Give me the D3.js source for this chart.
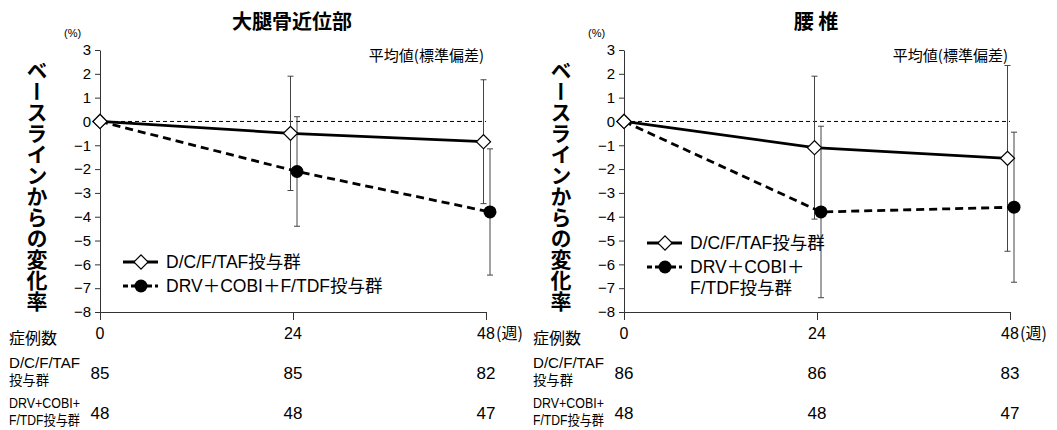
<!DOCTYPE html>
<html lang="ja">
<head>
<meta charset="UTF-8">
<title>ベースラインからの変化率</title>
<script src="https://d3js.org/d3.v7.min.js"></script>
<style>
  body, html { margin: 0; padding: 0; background: #fff; }
  svg { display: block; font-family: "Liberation Sans", "Noto Sans CJK JP", sans-serif; }
  .jp { font-family: "Noto Sans CJK JP", sans-serif; }
</style>
</head>
<body>
<svg></svg>
<script>
// data
const weeks = [0, 24, 48];
const yTicks = [3, 2, 1, 0, -1, -2, -3, -4, -5, -6, -7, -8];

const femurTaf = [0, -0.5, -0.85];
const femurTafSd = [0, 2.4, 2.6];
const femurDrv = [0, -2.1, -3.8];
const femurDrvSd = [0, 2.3, 2.65];
const femurN = [[85, 85, 82], [48, 48, 47]];

const lumbarTaf = [0, -1.1, -1.55];
const lumbarTafSd = [0, 3.0, 3.9];
const lumbarDrv = [0, -3.8, -3.6];
const lumbarDrvSd = [0, 3.6, 3.15];
const lumbarN = [[86, 86, 83], [48, 48, 47]];

const width = 1057, height = 430;
const svg = d3.select("svg").attr("width", width).attr("height", height);

const diamondPath = d3.symbol().type(d3.symbolSquare).size(100)();

function drawPanel(left, title, taf, tafSd, drv, drvSd, counts, legendY, wrapLegend) {
  const g = svg.append("g");
  const x = d3.scaleLinear().domain([0, 48]).range([left, left + 386]);
  const y = d3.scaleLinear().domain([3, -8]).range([50, 312]);

  // title
  g.append("text").attr("class", "jp")
    .attr("x", left + 192).attr("y", 29)
    .attr("text-anchor", "middle").attr("font-size", 20).attr("font-weight", "bold")
    .text(title);
  g.append("text").attr("x", left - 36).attr("y", 37)
    .attr("font-size", 11).text("(%)");
  g.append("text").attr("class", "jp")
    .attr("x", left + 384).attr("y", 61)
    .attr("text-anchor", "end").attr("font-size", 15)
    .text("平均値(標準偏差)");

  // vertical y label
  g.append("text").attr("class", "jp")
    .attr("x", left - 63).attr("y", 60)
    .attr("font-size", 21).attr("font-weight", "bold")
    .style("writing-mode", "vertical-rl")
    .text("ベースラインからの変化率");

  // zero reference
  g.append("line")
    .attr("x1", x(0)).attr("x2", x(48))
    .attr("y1", y(0)).attr("y2", y(0))
    .attr("stroke", "#000").attr("stroke-width", 1).attr("stroke-dasharray", "4,3");

  // axes
  const ay = g.append("g").attr("transform", `translate(${left},0)`)
    .call(d3.axisLeft(y).tickValues(yTicks).tickSize(5).tickPadding(4).tickSizeOuter(0));
  ay.attr("font-size", 15).attr("font-family", "Liberation Sans");
  ay.selectAll("text").attr("fill", "#000");
  g.append("g").attr("transform", `translate(0,312)`)
    .call(d3.axisBottom(x).tickValues(weeks).tickSize(8).tickFormat("").tickSizeOuter(0));
  g.selectAll(".domain, .tick line").attr("stroke", "#333");

  weeks.forEach(w => {
    g.append("text").attr("x", x(w)).attr("y", 339)
      .attr("text-anchor", "middle").attr("font-size", 16).text(w);
  });
  g.append("text").attr("class", "jp").attr("x", x(48) + 10).attr("y", 339)
    .attr("font-size", 16).text("(週)");

  // series
  const series = [
    { v: taf, sd: tafSd, dx: -2.5, dash: null, marker: "diamond" },
    { v: drv, sd: drvSd, dx: 4, dash: "8,5", marker: "circle" }
  ];
  const px = (s, i) => x(weeks[i]) + (i === 0 ? 0 : s.dx);

  series.forEach(s => {
    weeks.forEach((w, i) => {
      if (s.sd[i] === 0) return;
      const cx = px(s, i);
      const eb = g.append("g").attr("stroke", "#444").attr("stroke-width", 1);
      eb.append("line").attr("x1", cx).attr("x2", cx)
        .attr("y1", y(s.v[i] + s.sd[i])).attr("y2", y(s.v[i] - s.sd[i]));
      [s.v[i] + s.sd[i], s.v[i] - s.sd[i]].forEach(e => {
        eb.append("line").attr("x1", cx - 3).attr("x2", cx + 3)
          .attr("y1", y(e)).attr("y2", y(e));
      });
    });
  });

  const line = d3.line().x(d => d[0]).y(d => d[1]);
  series.slice().reverse().forEach(s => {
    const pts = weeks.map((w, i) => [px(s, i), y(s.v[i])]);
    g.append("path").attr("d", line(pts))
      .attr("fill", "none").attr("stroke", "#000").attr("stroke-width", 2.8)
      .attr("stroke-dasharray", s.dash);
  });
  series.slice().reverse().forEach(s => {
    weeks.forEach((w, i) => {
      const cx = px(s, i), cy = y(s.v[i]);
      if (s.marker === "diamond") {
        g.append("path").attr("d", diamondPath)
          .attr("transform", `translate(${cx},${cy}) rotate(45)`)
          .attr("fill", "#fff").attr("stroke", "#000").attr("stroke-width", 1.2);
      } else if (i > 0) {
        g.append("circle").attr("cx", cx).attr("cy", cy).attr("r", 6.5).attr("fill", "#000");
      }
    });
  });
  // marker at origin drawn on top
  g.append("path").attr("d", diamondPath)
    .attr("transform", `translate(${x(0)},${y(0)}) rotate(45)`)
    .attr("fill", "#fff").attr("stroke", "#000").attr("stroke-width", 1.2);

  // legend
  const lx = left + 23;
  const leg = g.append("g");
  const rows = wrapLegend
    ? [["D/C/F/TAF投与群"], ["DRV＋COBI＋", "F/TDF投与群"]]
    : [["D/C/F/TAF投与群"], ["DRV＋COBI＋F/TDF投与群"]];
  rows.forEach((r, k) => {
    const ly = legendY + k * 24;
    leg.append("line").attr("x1", lx).attr("x2", lx + 35).attr("y1", ly).attr("y2", ly)
      .attr("stroke", "#000").attr("stroke-width", 2.8).attr("stroke-dasharray", k ? "5,3" : null);
    if (k === 0) {
      leg.append("path").attr("d", diamondPath)
        .attr("transform", `translate(${lx + 18},${ly}) rotate(45)`)
        .attr("fill", "#fff").attr("stroke", "#000").attr("stroke-width", 1.2);
    } else {
      leg.append("circle").attr("cx", lx + 18).attr("cy", ly).attr("r", 6.5).attr("fill", "#000");
    }
    r.forEach((t, j) => {
      leg.append("text").attr("x", lx + 43).attr("y", ly + 6 + j * 21)
        .attr("font-size", 17.5).text(t);
    });
  });

  // patient counts table
  const tx = left - 91;
  g.append("text").attr("class", "jp").attr("x", tx).attr("y", 344)
    .attr("font-size", 16).text("症例数");
  const labels = [["D/C/F/TAF", "投与群"], ["DRV+COBI+", "F/TDF投与群"]];
  const rowY = [373, 413];
  labels.forEach((lab, k) => {
    lab.forEach((t, j) => {
      g.append("text").attr("x", tx).attr("y", rowY[k] - 5 + j * 17)
        .attr("font-size", 14)
        .attr("textLength", t.length > 4 ? 71 : 40)
        .attr("lengthAdjust", "spacingAndGlyphs")
        .text(t);
    });
    counts[k].forEach((n, i) => {
      g.append("text").attr("x", x(weeks[i])).attr("y", rowY[k] + 6)
        .attr("text-anchor", "middle").attr("font-size", 17).text(n);
    });
  });
}

drawPanel(100, "大腿骨近位部", femurTaf, femurTafSd, femurDrv, femurDrvSd, femurN, 262, false);
drawPanel(624, "腰 椎", lumbarTaf, lumbarTafSd, lumbarDrv, lumbarDrvSd, lumbarN, 243, true);
</script>
</body>
</html>
